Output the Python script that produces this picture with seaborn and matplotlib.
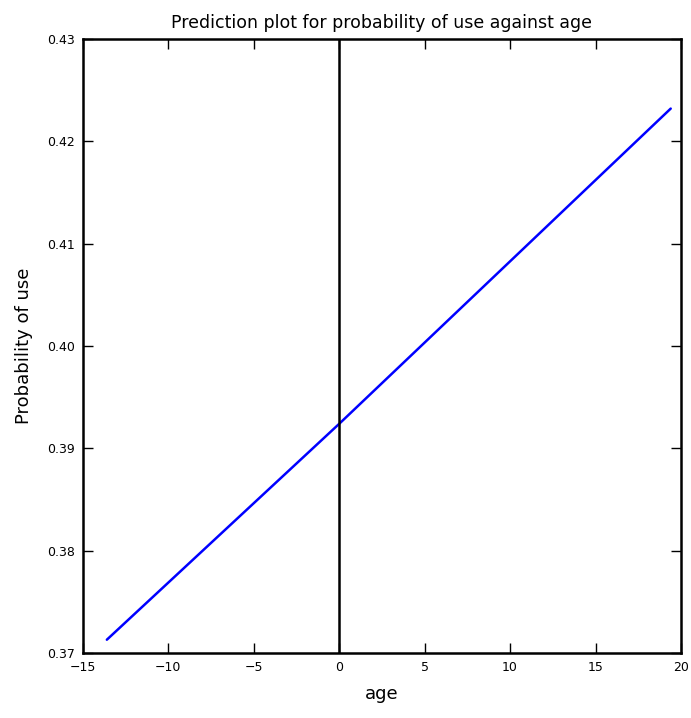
import matplotlib
matplotlib.use("Agg")
import matplotlib.pyplot as plt
import seaborn as sns
import pandas as pd

age = [-13.6, 0.0, 19.4]
prob_use = [0.3713, 0.3924, 0.4232]
x_ticks = [-15, -10, -5, 0, 5, 10, 15, 20]
y_ticks = [0.37, 0.38, 0.39, 0.40, 0.41, 0.42, 0.43]

sns.set_style("white")
plt.rcParams['font.family'] = ['DejaVu Sans']
plt.rcParams['text.color'] = 'black'
plt.rcParams['axes.labelcolor'] = 'black'

df = pd.DataFrame({"age": age, "prob": prob_use})

fig = plt.figure(figsize=(6.91, 7.18), dpi=100)
ax = fig.add_axes([0.120, 0.0905, 0.8655, 0.8552])
sns.lineplot(data=df, x="age", y="prob", color="blue", linewidth=1.8, ax=ax)
ax.axvline(0, color="black", linewidth=1.8)
ax.set_xlim(-15, 20)
ax.set_ylim(0.37, 0.43)
ax.set_xticks(x_ticks)
ax.set_xticklabels([("\u2212" + str(-t)) if t < 0 else str(t) for t in x_ticks])
ax.set_yticks(y_ticks)
ax.set_yticklabels([f"{t:.2f}" for t in y_ticks])
ax.tick_params(direction="in", length=7, width=1, top=True, right=True,
               bottom=True, left=True, labelsize=9, pad=6, colors="black")
for s in ax.spines.values():
    s.set_linewidth(1.8)
    s.set_color("black")
ax.set_xlabel("age", fontsize=13, labelpad=8, color="black")
ax.set_ylabel("Probability of use", fontsize=13, labelpad=10, color="black")
ax.set_title("Prediction plot for probability of use against age", fontsize=12.5, pad=8, color="black")
fig.savefig("out.png", dpi=100)
